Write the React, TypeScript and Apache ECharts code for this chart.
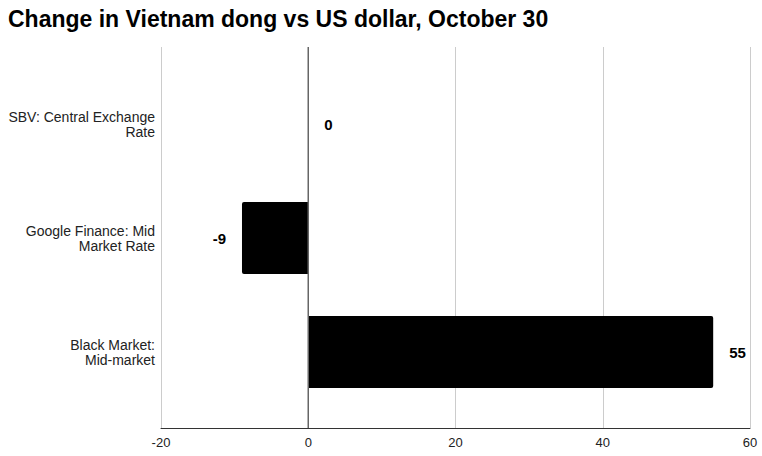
import React, { useEffect, useRef } from "react";
import * as echarts from "echarts";

const categories = ["SBV: Central Exchange\nRate", "Google Finance: Mid\nMarket Rate", "Black Market:\nMid-market"];
const values = [0, -9, 55];
const xTicks = [-20, 0, 20, 40, 60];

export default function App() {
  const ref = useRef<HTMLDivElement>(null);
  useEffect(() => {
    const chart = echarts.init(ref.current!, null, { renderer: "svg" });
    const font = "'Liberation Sans', Arial, sans-serif";
    chart.setOption({
      animation: false,
      textStyle: { fontFamily: font },
      title: {
        text: "Change in Vietnam dong vs US dollar, October 30",
        left: 8,
        top: 7,
        padding: 0,
        textStyle: { fontSize: 23, fontWeight: "bold", color: "#000", fontFamily: font },
      },
      grid: [
        { left: 161, right: 12, top: 47, bottom: 28, containLabel: false, outerBoundsMode: "none" },
        { left: 161, right: 12, top: 67, bottom: 47, containLabel: false, outerBoundsMode: "none" },
      ],
      xAxis: [
        {
          type: "value",
          gridIndex: 0,
          min: xTicks[0],
          max: xTicks[xTicks.length - 1],
          interval: 20,
          axisLine: { show: true, onZero: false, lineStyle: { color: "#333", width: 1 } },
          axisTick: { show: false },
          splitLine: { show: true, lineStyle: { color: "#ccc", width: 1 } },
          axisLabel: { color: "#222", fontSize: 13, margin: 8, fontFamily: font, showMinLabel: true, showMaxLabel: true },
        },
        {
          type: "value",
          gridIndex: 1,
          min: xTicks[0],
          max: xTicks[xTicks.length - 1],
          interval: 20,
          show: false,
        },
      ],
      yAxis: [
        {
          type: "value",
          gridIndex: 0,
          min: 0,
          max: 1,
          axisLine: { show: false },
          axisTick: { show: false },
          axisLabel: { show: false },
          splitLine: { show: false },
        },
        {
          type: "category",
          gridIndex: 1,
          data: categories,
          inverse: true,
          axisLine: { show: false },
          axisTick: { show: false },
          splitLine: { show: false },
          axisLabel: { color: "#222", fontSize: 14, margin: 6, lineHeight: 15, fontFamily: font, align: "right" },
        },
      ],
      series: [
        {
          type: "line",
          xAxisIndex: 0,
          yAxisIndex: 0,
          data: [[0, 0], [0, 1]],
          symbol: "none",
          lineStyle: { color: "#666", width: 1.5 },
          silent: true,
          z: 5,
        },
        {
          type: "bar",
          xAxisIndex: 1,
          yAxisIndex: 1,
          barWidth: 72,
          data: values.map((v) => ({
            value: v,
            itemStyle: { borderRadius: v < 0 ? [2, 0, 0, 2] : [0, 2, 2, 0] },
            label: { position: v < 0 ? "left" : "right" },
          })),
          itemStyle: { color: "#000" },
          label: {
            show: true,
            distance: 16,
            color: "#000",
            fontSize: 15,
            fontWeight: "bold",
            fontFamily: font,
          },
          z: 3,
        },
      ],
    });
    return () => chart.dispose();
  }, []);
  return <div ref={ref} style={{ position: "absolute", left: 0, top: 0, width: 762, height: 456 }} />;
}
